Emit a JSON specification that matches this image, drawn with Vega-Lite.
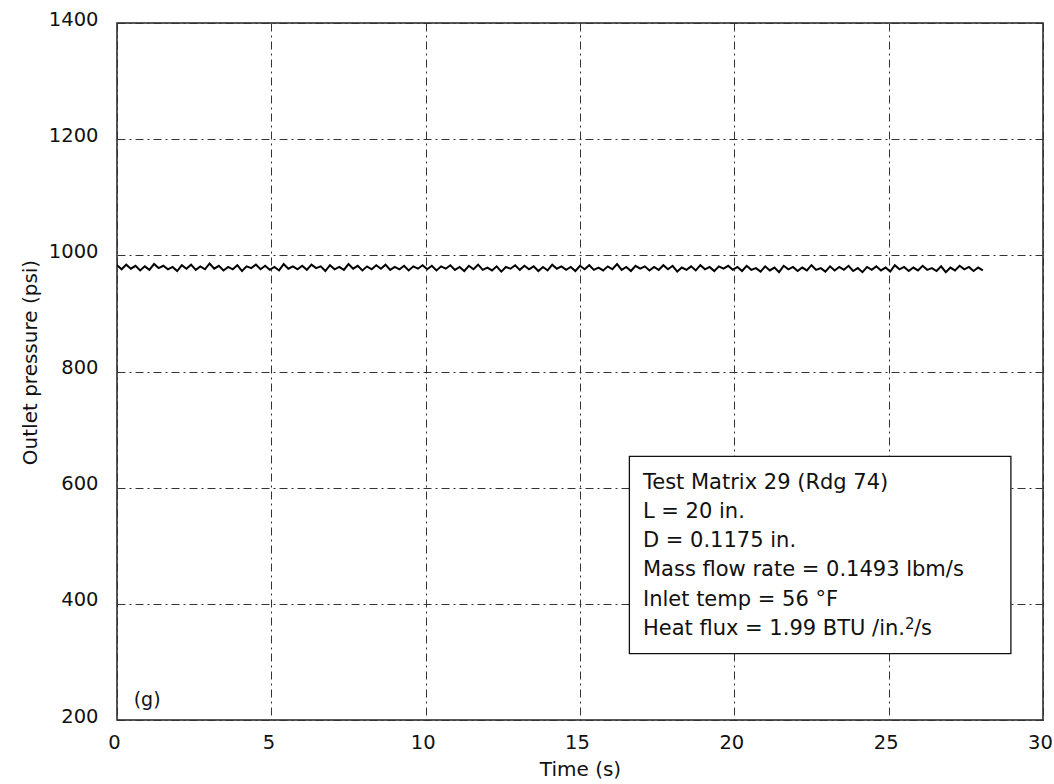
{
"$schema": "https://vega.github.io/schema/vega-lite/v6.json",
"width": 926, "height": 697,
"autosize": {"type": "none"},
"padding": {"left": 117, "top": 23, "right": 11, "bottom": 64},
"background": "white",
"data": {"values": [
{"t":0,"p":983},{"t":0.15,"p":976},{"t":0.3,"p":984},{"t":0.45,"p":977},{"t":0.6,"p":982},{"t":0.75,"p":974},{"t":0.9,"p":981},{"t":1.05,"p":975},{"t":1.2,"p":985},{"t":1.35,"p":978},
{"t":1.5,"p":982},{"t":1.65,"p":976},{"t":1.8,"p":980},{"t":1.95,"p":973},{"t":2.1,"p":983},{"t":2.25,"p":977},{"t":2.4,"p":984},{"t":2.55,"p":975},{"t":2.7,"p":981},{"t":2.85,"p":976},
{"t":3,"p":986},{"t":3.15,"p":977},{"t":3.3,"p":982},{"t":3.45,"p":974},{"t":3.6,"p":980},{"t":3.75,"p":976},{"t":3.9,"p":983},{"t":4.05,"p":973},{"t":4.2,"p":981},{"t":4.35,"p":978},
{"t":4.5,"p":984},{"t":4.65,"p":976},{"t":4.8,"p":982},{"t":4.95,"p":975},{"t":5.1,"p":980},{"t":5.25,"p":974},{"t":5.4,"p":985},{"t":5.55,"p":977},{"t":5.7,"p":981},{"t":5.85,"p":976},
{"t":6,"p":982},{"t":6.15,"p":975},{"t":6.3,"p":984},{"t":6.45,"p":978},{"t":6.6,"p":981},{"t":6.75,"p":973},{"t":6.9,"p":983},{"t":7.05,"p":976},{"t":7.2,"p":980},{"t":7.35,"p":975},
{"t":7.5,"p":985},{"t":7.65,"p":977},{"t":7.8,"p":982},{"t":7.95,"p":974},{"t":8.1,"p":981},{"t":8.25,"p":976},{"t":8.4,"p":983},{"t":8.55,"p":977},{"t":8.7,"p":984},{"t":8.85,"p":975},
{"t":9,"p":980},{"t":9.15,"p":976},{"t":9.3,"p":982},{"t":9.45,"p":974},{"t":9.6,"p":981},{"t":9.75,"p":977},{"t":9.9,"p":983},
{"t":10.05,"p":976},{"t":10.2,"p":982},{"t":10.35,"p":974},{"t":10.5,"p":981},{"t":10.65,"p":977},{"t":10.8,"p":983},{"t":10.95,"p":975},{"t":11.1,"p":980},{"t":11.25,"p":973},{"t":11.4,"p":982},
{"t":11.55,"p":976},{"t":11.7,"p":984},{"t":11.85,"p":975},{"t":12,"p":979},{"t":12.15,"p":974},{"t":12.3,"p":981},{"t":12.45,"p":972},{"t":12.6,"p":980},{"t":12.75,"p":977},{"t":12.9,"p":983},
{"t":13.05,"p":975},{"t":13.2,"p":982},{"t":13.35,"p":976},{"t":13.5,"p":981},{"t":13.65,"p":973},{"t":13.8,"p":980},{"t":13.95,"p":974},{"t":14.1,"p":984},{"t":14.25,"p":977},{"t":14.4,"p":981},
{"t":14.55,"p":975},{"t":14.7,"p":980},{"t":14.85,"p":973},{"t":15,"p":982},{"t":15.15,"p":976},{"t":15.3,"p":983},{"t":15.45,"p":975},{"t":15.6,"p":979},{"t":15.75,"p":974},{"t":15.9,"p":981},
{"t":16.05,"p":976},{"t":16.2,"p":985},{"t":16.35,"p":975},{"t":16.5,"p":980},{"t":16.65,"p":973},{"t":16.8,"p":982},{"t":16.95,"p":977},{"t":17.1,"p":981},{"t":17.25,"p":974},{"t":17.4,"p":980},
{"t":17.55,"p":975},{"t":17.7,"p":983},{"t":17.85,"p":976},{"t":18,"p":982},{"t":18.15,"p":972},{"t":18.3,"p":979},{"t":18.45,"p":975},{"t":18.6,"p":981},{"t":18.75,"p":974},{"t":18.9,"p":983},
{"t":19.05,"p":976},{"t":19.2,"p":980},{"t":19.35,"p":973},{"t":19.5,"p":981},{"t":19.65,"p":977},{"t":19.8,"p":982},{"t":19.95,"p":975},
{"t":20.1,"p":980},{"t":20.25,"p":973},{"t":20.4,"p":982},{"t":20.55,"p":975},{"t":20.7,"p":978},{"t":20.85,"p":972},{"t":21,"p":981},{"t":21.15,"p":974},{"t":21.3,"p":979},{"t":21.45,"p":971},
{"t":21.6,"p":982},{"t":21.75,"p":976},{"t":21.9,"p":980},{"t":22.05,"p":973},{"t":22.2,"p":979},{"t":22.35,"p":974},{"t":22.5,"p":983},{"t":22.65,"p":975},{"t":22.8,"p":978},{"t":22.95,"p":972},
{"t":23.1,"p":981},{"t":23.25,"p":974},{"t":23.4,"p":980},{"t":23.55,"p":975},{"t":23.7,"p":982},{"t":23.85,"p":973},{"t":24,"p":978},{"t":24.15,"p":971},{"t":24.3,"p":980},{"t":24.45,"p":975},
{"t":24.6,"p":981},{"t":24.75,"p":974},{"t":24.9,"p":979},{"t":25.05,"p":972},{"t":25.2,"p":983},{"t":25.35,"p":976},{"t":25.5,"p":980},{"t":25.65,"p":973},{"t":25.8,"p":979},{"t":25.95,"p":974},
{"t":26.1,"p":982},{"t":26.25,"p":975},{"t":26.4,"p":978},{"t":26.55,"p":973},{"t":26.7,"p":981},{"t":26.85,"p":971},{"t":27,"p":979},{"t":27.15,"p":974},{"t":27.3,"p":982},{"t":27.45,"p":976},
{"t":27.6,"p":980},{"t":27.75,"p":973},{"t":27.9,"p":979},{"t":28.05,"p":974}
]},
"layer": [
{
"mark": {"type": "line", "color": "#000", "strokeWidth": 2, "clip": true},
"encoding": {
"x": {"field": "t", "type": "quantitative", "title": "Time (s)",
 "scale": {"domain": [0, 30], "nice": false, "zero": false},
 "axis": {"values": [0,5,10,15,20,25,30], "format": "d", "labelPadding": 13, "labelOffset": -3, "titlePadding": 8, "labelFlush": false}},
"y": {"field": "p", "type": "quantitative", "title": "Outlet pressure (psi)",
 "scale": {"domain": [200, 1400], "nice": false, "zero": false},
 "axis": {"values": [200,400,600,800,1000,1200,1400], "format": "d", "labelPadding": 19, "labelOffset": -4, "titlePadding": 8, "titleY": 339, "labelFlush": false}}
}
},
{
"data": {"values": [{}]},
"mark": {"type": "rect", "fill": "white", "stroke": "#111", "strokeWidth": 1.3},
"encoding": {
"x": {"datum": 16.6, "type": "quantitative", "title": "Time (s)"},
"x2": {"datum": 28.96},
"y": {"datum": 654, "type": "quantitative", "title": "Outlet pressure (psi)"},
"y2": {"datum": 314.3}
}
},
{
"data": {"values": [{}]},
"mark": {"type": "text", "align": "left", "baseline": "alphabetic", "fontSize": 21, "lineHeight": 29.3, "font": "DejaVu Sans", "color": "#111",
 "text": ["Test Matrix 29 (Rdg 74)", "L = 20 in.", "D = 0.1175 in.", "Mass flow rate = 0.1493 lbm/s", "Inlet temp = 56 °F", "Heat flux = 1.99 BTU /in."]},
"encoding": {
"x": {"datum": 17.04, "type": "quantitative", "title": "Time (s)"},
"y": {"datum": 598.4, "type": "quantitative", "title": "Outlet pressure (psi)"}
}
},
{
"data": {"values": [{}]},
"mark": {"type": "text", "align": "left", "baseline": "alphabetic", "fontSize": 15, "font": "DejaVu Sans", "color": "#111", "text": "2", "dx": 262, "dy": -6},
"encoding": {
"x": {"datum": 17.04, "type": "quantitative", "title": "Time (s)"},
"y": {"datum": 345.8, "type": "quantitative", "title": "Outlet pressure (psi)"}
}
},
{
"data": {"values": [{}]},
"mark": {"type": "text", "align": "left", "baseline": "alphabetic", "fontSize": 21, "font": "DejaVu Sans", "color": "#111", "text": "/s", "dx": 271},
"encoding": {
"x": {"datum": 17.04, "type": "quantitative", "title": "Time (s)"},
"y": {"datum": 345.8, "type": "quantitative", "title": "Outlet pressure (psi)"}
}
},
{
"data": {"values": [{}]},
"mark": {"type": "text", "align": "left", "baseline": "alphabetic", "fontSize": 19, "font": "DejaVu Sans", "color": "#111", "text": "(g)"},
"encoding": {
"x": {"datum": 0.54, "type": "quantitative", "title": "Time (s)"},
"y": {"datum": 223.5, "type": "quantitative", "title": "Outlet pressure (psi)"}
}
}
],
"config": {
"view": {"stroke": "#222", "strokeWidth": 1.5},
"axis": {"labelFont": "DejaVu Sans", "titleFont": "DejaVu Sans", "labelFontSize": 19.5, "titleFontSize": 20, "titleFontWeight": "normal",
 "labelColor": "#111", "titleColor": "#111", "ticks": false, "domain": false, "grid": true,
 "gridColor": "#333", "gridDash": [8, 4, 2, 4], "gridWidth": 1, "gridOpacity": 1}
}
}
